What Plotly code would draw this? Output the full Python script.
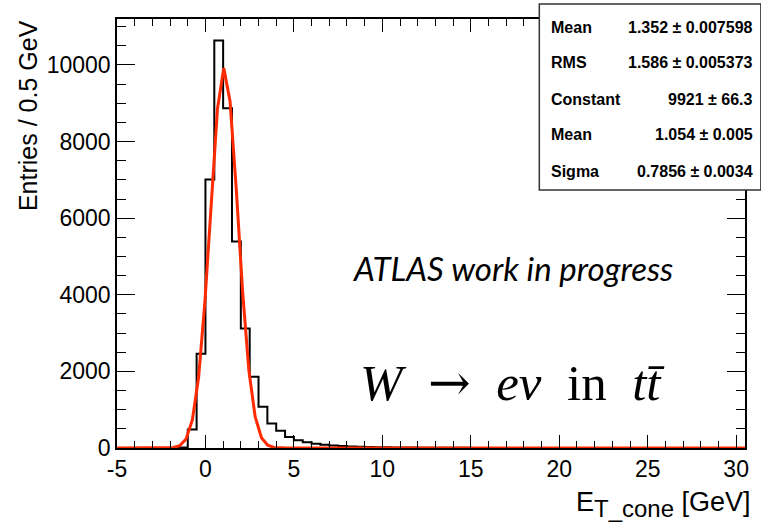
import numpy as np
import plotly.graph_objects as go

# ---------------- data ----------------
bin_start = -5.0
bin_width = 0.5
counts = [
    0, 0, 0, 0, 0, 0, 2, 15,            # -5.0 ... -1.0
    480, 2460, 7010, 10640, 8870, 5390,  # -1.0 ... 2.0
    3120, 1860, 1080, 640, 450, 290,     # 2.0 ... 5.0
    200, 150, 110, 85, 65, 50, 40, 32, 26, 21,   # 5.0 ... 10.0
    17, 14, 12, 10, 8, 7, 6, 5, 4, 4,            # 10.0 ... 15.0
    3, 3, 2, 2, 2, 2, 2, 1, 1, 1,                # 15.0 ... 20.0
    1, 1, 1, 1, 1, 0, 1, 0, 1, 0,                # 20.0 ... 25.0
    0, 0, 0, 0, 0, 0, 0, 0, 0, 0, 0              # 25.0 ... 30.5
]
fit_constant = 9921.0
fit_mean = 1.054
fit_sigma = 0.7856

stat_labels = ["Mean", "RMS", "Constant", "Mean", "Sigma"]
stat_values = ["1.352 ± 0.007598", "1.586 ± 0.005373", "9921 ± 66.3",
               "1.054 ± 0.005", "0.7856 ± 0.0034"]

x_tickvals = [-5, 0, 5, 10, 15, 20, 25, 30]
x_ticktext = ["-5", "0", "5", "10", "15", "20", "25", "30"]
y_tickvals = [0, 2000, 4000, 6000, 8000, 10000]
y_ticktext = ["0", "2000", "4000", "6000", "8000", "10000"]

x_range = [-5, 30.5]
y_range = [0, 11200]

# ---------------- build ----------------
n = len(counts)
edges = bin_start + bin_width * np.arange(n + 1)
hist_x = list(edges)
hist_y = list(counts) + [counts[-1]]

fx = np.linspace(x_range[0], x_range[1], 101)
fy = fit_constant * np.exp(-0.5 * ((fx - fit_mean) / fit_sigma) ** 2)

W, H = 761, 524
L, R, T, B = 117, 12, 19, 76
pw, ph = W - L - R, H - T - B


def px(x):
    return (x - L) / pw


def py(y):
    return (H - B - y) / ph


fig = go.Figure()
fig.add_trace(go.Scatter(x=hist_x, y=hist_y, mode="lines",
                         line=dict(shape="hv", color="black", width=2),
                         showlegend=False, hoverinfo="skip"))
fig.add_trace(go.Scatter(x=fx, y=fy, mode="lines",
                         line=dict(color="#ff2a00", width=3),
                         showlegend=False, hoverinfo="skip"))

axis_common = dict(showline=True, linecolor="black", linewidth=1.5,
                   mirror="ticks", ticks="inside", tickcolor="black",
                   showgrid=False, zeroline=False,
                   tickfont=dict(family="Liberation Sans", size=23, color="black"))

fig.update_xaxes(range=x_range, tickmode="array", tickvals=x_tickvals, ticktext=x_ticktext,
                 ticklen=13, tickwidth=1,
                 minor=dict(ticks="inside", tick0=-5, dtick=1, ticklen=7, tickcolor="black", tickwidth=1),
                 **axis_common)
fig.update_yaxes(range=y_range, tickmode="array", tickvals=y_tickvals, ticktext=y_ticktext,
                 ticklen=18, tickwidth=1,
                 minor=dict(ticks="inside", tick0=0, dtick=500, ticklen=9, tickcolor="black", tickwidth=1),
                 **axis_common)

# stats box
fig.add_shape(type="rect", xref="paper", yref="paper",
              x0=px(542), x1=px(765), y0=py(190), y1=py(4),
              fillcolor="white", line=dict(color="#333333", width=1.5), layer="above")

row_y = [27, 63, 99, 135, 171]
annotations = []
for lab, val, ry in zip(stat_labels, stat_values, row_y):
    annotations.append(dict(x=px(552), y=py(ry), xref="paper", yref="paper",
                            text="<b>%s</b>" % lab, showarrow=False,
                            xanchor="left", yanchor="middle",
                            font=dict(family="Liberation Sans", size=16, color="black")))
    annotations.append(dict(x=px(759), y=py(ry), xref="paper", yref="paper",
                            text="<b>%s</b>" % val, showarrow=False,
                            xanchor="right", yanchor="middle",
                            font=dict(family="Liberation Sans", size=16, color="black")))

annotations.append(dict(x=px(28), y=py(18), xref="paper", yref="paper",
                        text="Entries / 0.5 GeV", textangle=-90, showarrow=False,
                        xanchor="center", yanchor="top",
                        font=dict(family="Liberation Sans", size=25, color="black")))
annotations.append(dict(x=px(757), y=py(504), xref="paper", yref="paper",
                        text="E<sub><span style='font-size:24px'>T_cone</span></sub> [GeV]",
                        showarrow=False, xanchor="right", yanchor="middle",
                        font=dict(family="Liberation Sans", size=27, color="black")))
annotations.append(dict(x=px(515), y=py(268), xref="paper", yref="paper",
                        text="<i>ATLAS work in progress</i>", showarrow=False,
                        xanchor="center", yanchor="middle",
                        font=dict(family="Lato", size=33, color="black")))
nb = "\u00a0\u00a0"
annotations.append(dict(x=px(515), y=py(382), xref="paper", yref="paper",
                        text=("<i>W</i>" + nb + "<span style='font-family:DejaVu Serif'>→</span>" + nb
                              + "<i>eν</i>" + nb + "in" + nb + "<i>t</i><i>t\u0304</i>"),
                        showarrow=False, xanchor="center", yanchor="middle",
                        font=dict(family="Liberation Serif", size=51, color="black")))

fig.update_layout(width=W, height=H, margin=dict(l=L, r=R, t=T, b=B, pad=0),
                  paper_bgcolor="white", plot_bgcolor="white",
                  annotations=annotations, showlegend=False)

fig.write_html("out.html")
